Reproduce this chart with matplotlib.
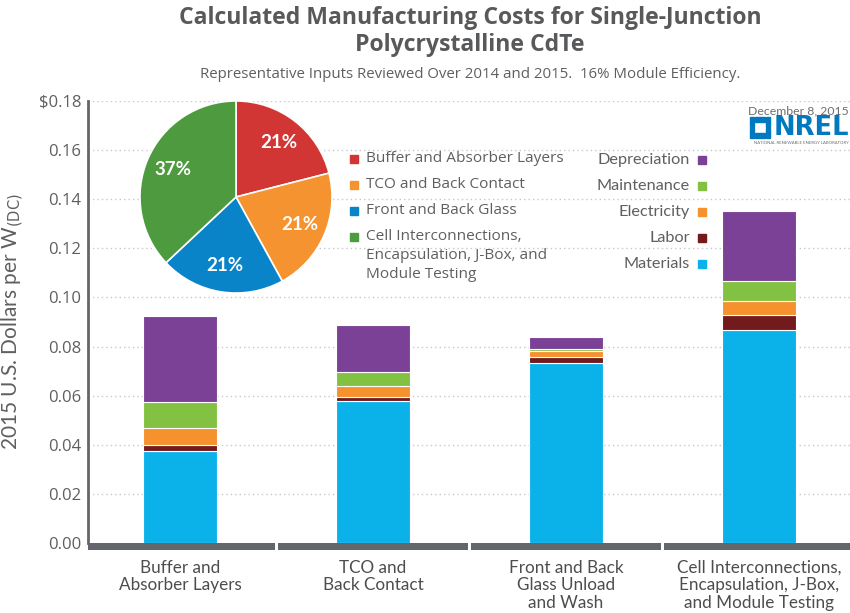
import matplotlib
matplotlib.use("Agg")
import matplotlib.pyplot as plt
from matplotlib.patches import Rectangle
import numpy as np

# ---- data -------------------------------------------------------------
categories = [
    "Buffer and\nAbsorber Layers",
    "TCO and\nBack Contact",
    "Front and Back\nGlass Unload\nand Wash",
    "Cell Interconnections,\nEncapsulation, J-Box,\nand Module Testing",
]
materials = [0.0373, 0.0578, 0.0733, 0.0869]
labor = [0.0028, 0.0018, 0.0026, 0.0059]
electricity = [0.0066, 0.0042, 0.0021, 0.0056]
maintenance = [0.0107, 0.0057, 0.0012, 0.0081]
depreciation = [0.0350, 0.0194, 0.0047, 0.0286]

cost_names = ["Materials", "Labor", "Electricity", "Maintenance", "Depreciation"]
cost_colors = ["#0BB2E9", "#731A1C", "#F5922E", "#83C143", "#7B4196"]

pie_labels = [
    "Buffer and Absorber Layers",
    "TCO and Back Contact",
    "Front and Back Glass",
    "Cell Interconnections,\nEncapsulation, J-Box, and\nModule Testing",
]
pie_shares = [21, 21, 21, 37]
pie_colors = ["#D23634", "#F59331", "#0A84C8", "#4E9A3E"]

yticks = [0.00, 0.02, 0.04, 0.06, 0.08, 0.10, 0.12, 0.14, 0.16, 0.18]
ytick_labels = ["0.00", "0.02", "0.04", "0.06", "0.08", "0.10", "0.12",
                "0.14", "0.16", "$0.18"]

# ---- style ------------------------------------------------------------
plt.rcParams["font.family"] = ["Lato", "DejaVu Sans"]
GRAY_TEXT = "#5E5F61"
AXIS_GRAY = "#63666A"
WIDE = ["Open Sans", "DejaVu Sans"]

W, H = 850, 613
fig = plt.figure(figsize=(W / 100, H / 100), dpi=100)


def px_axes(x0, y0, x1, y1):
    """Axes box given in pixel coordinates (top-left origin)."""
    return [x0 / W, 1 - y1 / H, (x1 - x0) / W, (y1 - y0) / H]


def fx(px):
    return px / W


def fy(py):
    return 1 - py / H


# ---- stacked bars -------------------------------------------------------
ax = fig.add_axes(px_axes(88, 101, 850, 543))
x = np.arange(len(categories))
step = 193.0
ax.set_xlim(-92 / step, 670 / step)
ax.set_ylim(0, 0.18)

series = [materials, labor, electricity, maintenance, depreciation]
bottom = np.zeros(len(categories))
for vals, col in zip(series, cost_colors):
    ax.bar(x, vals, width=74 / step, bottom=bottom, color=col,
           edgecolor="white", linewidth=0.8, zorder=3)
    bottom += np.array(vals)

for v in yticks[1:]:
    ax.axhline(v, color="#C8C8C8", lw=1.0, ls=(0, (1, 2.2)), zorder=1)

for s in ["top", "right", "bottom"]:
    ax.spines[s].set_visible(False)
ax.spines["left"].set_color(AXIS_GRAY)
ax.spines["left"].set_linewidth(2)

ax.set_yticks(yticks)
ax.set_yticklabels(ytick_labels, family=WIDE)
ax.tick_params(axis="y", length=0, pad=5, labelsize=12, labelcolor=GRAY_TEXT)
ax.tick_params(axis="x", length=0, pad=12, labelsize=12.3, labelcolor="#4D4D4F")
ax.set_xticks(x)
ax.set_xticklabels(categories, linespacing=1.12, va="top")

ax.set_ylabel("2015 U.S. Dollars per W$_{\\rm (DC)}$", fontsize=15,
              color=GRAY_TEXT, labelpad=9)

# segmented base band under each category
edges = np.concatenate([[-92 / step], x[:-1] + 0.5, [700 / step]])
band_h = 0.0028
for i in range(len(categories)):
    left = edges[i] + (0.009 if i > 0 else 0)
    right = edges[i + 1] - 0.009
    ax.add_patch(Rectangle((left, -band_h), right - left, band_h,
                           color=AXIS_GRAY, clip_on=False, zorder=4, lw=0))

# cost-type legend (right aligned labels, square markers)
leg_y = [160, 186, 212, 238, 264]
for name, col, yy in zip(cost_names[::-1], cost_colors[::-1], leg_y):
    fig.text(fx(690), fy(yy), name, ha="right", va="center",
             fontsize=11.7, color=GRAY_TEXT)
    fig.patches.append(Rectangle((fx(698), fy(yy + 4)), 8 / W, 8 / H,
                                 transform=fig.transFigure, color=col))

# ---- pie of cost shares -----------------------------------------------
pax = fig.add_axes(px_axes(139, 100, 333, 294))
wedges, _, autotexts = pax.pie(
    pie_shares, colors=pie_colors, startangle=90, counterclock=False,
    autopct="%d%%", pctdistance=0.72,
    wedgeprops=dict(edgecolor="white", linewidth=1.2),
    textprops=dict(color="white", fontsize=13.5, fontweight="bold"))
pax.set_aspect("equal")
pax.set_xlim(-1.01, 1.01)
pax.set_ylim(-1.01, 1.01)

pie_leg_y = [159, 185, 211, 237]
for lab, col, yy in zip(pie_labels, pie_colors, pie_leg_y):
    for k, line in enumerate(lab.split("\n")):
        fig.text(fx(366), fy(yy + 18.5 * k), line, ha="left", va="center",
                 fontsize=11.1, color=GRAY_TEXT, family=WIDE)
    fig.patches.append(Rectangle((fx(350), fy(yy + 4)), 8 / W, 8 / H,
                                 transform=fig.transFigure, color=col))

# ---- titles -------------------------------------------------------------
fig.text(fx(470), fy(18), "Calculated Manufacturing Costs for Single-Junction",
         ha="center", va="center", fontsize=16.6, fontweight="bold",
         color="#58595B", family=WIDE)
fig.text(fx(470), fy(45), "Polycrystalline CdTe",
         ha="center", va="center", fontsize=16.6, fontweight="bold",
         color="#58595B", family=WIDE)
fig.text(fx(470), fy(74),
         "Representative Inputs Reviewed Over 2014 and 2015.  16% Module Efficiency.",
         ha="center", va="center", fontsize=10.8, color=GRAY_TEXT, family=WIDE)

# ---- NREL badge ---------------------------------------------------------
fig.text(fx(849), fy(111), "December 8, 2015", ha="right", va="center",
         fontsize=8.8, color="#6D6E71")
fig.text(fx(849), fy(128), "NREL", ha="right", va="center",
         fontsize=18.5, fontweight="bold", color="#0079C1",
         family=["DejaVu Sans"])
fig.text(fx(849), fy(142.5), "NATIONAL RENEWABLE ENERGY LABORATORY",
         ha="right", va="center", fontsize=3.1, color="#6D6E71")
# ring of small squares forming the logo mark
cx, cy = 760, 127.5
for dx in (-8, -2.7, 2.7, 8):
    for dy in (-8, -2.7, 2.7, 8):
        if abs(dx) == 8 or abs(dy) == 8:
            fig.patches.append(Rectangle((fx(cx + dx - 2.3), fy(cy + dy + 2.3)),
                                         4.6 / W, 4.6 / H,
                                         transform=fig.transFigure,
                                         color="#0079C1"))

fig.savefig("out.png", dpi=100)
